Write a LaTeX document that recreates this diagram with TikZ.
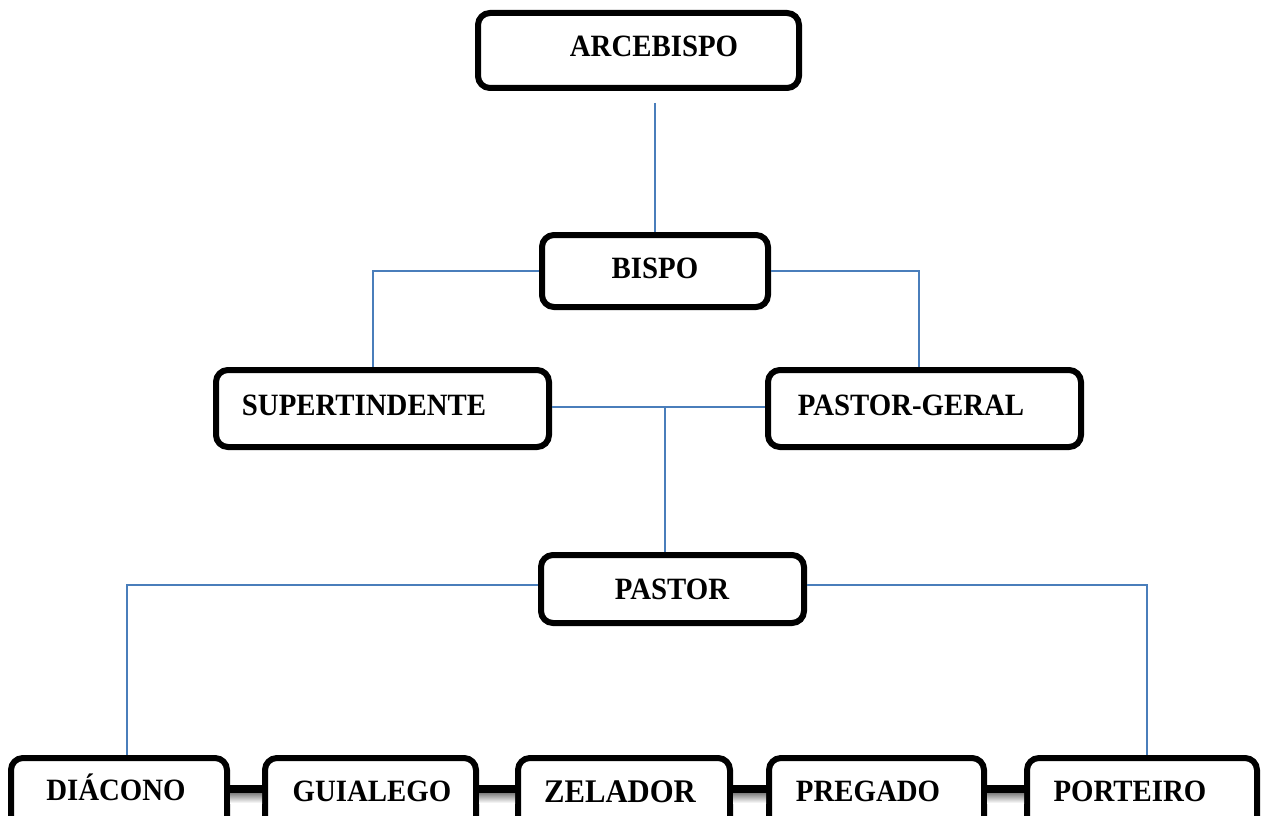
\documentclass[tikz,border=0pt]{standalone}
\usepackage{graphicx}
\usepackage{fontspec}
\setmainfont{Liberation Serif}
\definecolor{linkblue}{HTML}{4A7EBB}
\newcommand{\cond}[1]{\scalebox{0.93}[1]{#1}}
\begin{document}
\begin{tikzpicture}[x=1pt,y=-1pt,
  box/.style={draw=black, line width=6pt, rounded corners=12pt, fill=white, inner sep=0pt},
  lbl/.style={anchor=base, font=\fontsize{31}{36}\selectfont\bfseries, inner sep=0pt},
  link/.style={draw=linkblue, line width=1.6pt},
  barline/.style={draw=black, line width=8pt},
  barshade/.style={top color=black!50, bottom color=white}]
\useasboundingbox (0,0) rectangle (1262,816);
% boxes
\node[box, minimum width=321pt, minimum height=75pt] (arce) at (638.5,50.5) {};
\node[box, minimum width=226pt, minimum height=72pt] (bispo) at (655,271) {};
\node[box, minimum width=333pt, minimum height=77pt] (super) at (382.5,408.5) {};
\node[box, minimum width=313pt, minimum height=77pt] (pgeral) at (924.5,408.5) {};
\node[box, minimum width=263pt, minimum height=68pt] (pastor) at (672.5,589) {};
\node[box, minimum width=216pt, minimum height=72pt] (diac) at (119,794) {};
\node[box, minimum width=211pt, minimum height=72pt] (guia) at (370.5,794) {};
\node[box, minimum width=212pt, minimum height=72pt] (zel) at (624,794) {};
\node[box, minimum width=215pt, minimum height=72pt] (preg) at (876.5,794) {};
\node[box, minimum width=230pt, minimum height=72pt] (port) at (1142,794) {};
% labels
\node[lbl] (tarce) at (654,57) {\cond{ARCEBISPO}};
\node[lbl] (tbispo) at (655,278) {\cond{BISPO}};
\node[lbl] (tsuper) at (364,415) {\cond{SUPERTINDENTE}};
\node[lbl] (tpgeral) at (911,415) {\cond{PASTOR-GERAL}};
\node[lbl] (tpastor) at (672,599) {\cond{PASTOR}};
\node[lbl] (tdiac) at (116,800) {\cond{DIÁCONO}};
\node[lbl] (tguia) at (372,801) {\cond{GUIALEGO}};
\node[lbl, font=\fontsize{33}{38}\selectfont\bfseries] (tzel) at (620,802) {\cond{ZELADOR}};
\node[lbl] (tpreg) at (868,801) {\cond{PREGADO}};
\node[lbl] (tport) at (1130,801) {\cond{PORTEIRO}};
% blue connectors
\coordinate (a1) at (655,103);
\draw[link] (a1) -- (a1 |- bispo.north);
\draw[link] (bispo.west) -| ([xshift=-9.5pt]super.north);
\draw[link] (bispo.east) -| ([xshift=-5.5pt]pgeral.north);
\draw[link] ([yshift=1.5pt]super.east) -- ([yshift=1.5pt]pgeral.west);
\coordinate (j) at (665,407);
\draw[link] (j) -- (j |- pastor.north);
\draw[link] ([yshift=4pt]pastor.west) -| ([xshift=8pt]diac.north);
\draw[link] ([yshift=4pt]pastor.east) -| ([xshift=5pt]port.north);
% bottom bars
\foreach \a/\b in {diac/guia, guia/zel, zel/preg, preg/port}{
  \shade[barshade] ([yshift=1pt]\a.east) rectangle ([yshift=-9pt]\b.west);
  \draw[barline] ([yshift=5pt]\a.east) -- ([yshift=5pt]\b.west);
}
\end{tikzpicture}
\end{document}
